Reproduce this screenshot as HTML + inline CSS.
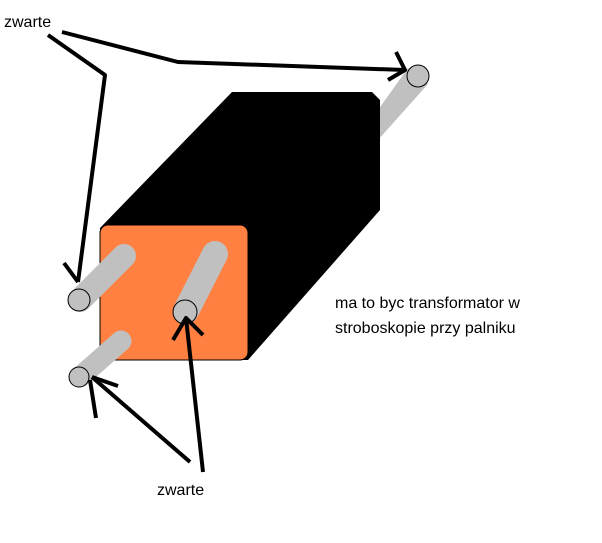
<!DOCTYPE html>
<html><head><style>body{margin:0;background:#fff}svg{display:block}text{font-family:"Liberation Sans",sans-serif;font-size:16px;fill:#000}</style></head><body>
<svg width="602" height="543" viewBox="0 0 602 543">
<polygon points="378,110 408,68 428,84 378,140" fill="#c0c0c0"/>
<circle cx="418" cy="76" r="11" fill="#c0c0c0" stroke="#000" stroke-width="1"/>
<polygon points="100,228 232,92 372,92 380,100 380,210 248,360 100,360" fill="#000"/>
<rect x="100" y="225" width="148" height="135" rx="8" fill="#ff8040" stroke="#000"/>
<g stroke-linecap="round" fill="none">
<line x1="80" y1="300" x2="124" y2="256" stroke="#c0c0c0" stroke-width="24"/>
<line x1="80" y1="377" x2="121" y2="341" stroke="#c0c0c0" stroke-width="21"/>
<line x1="186" y1="311" x2="215" y2="254" stroke="#c0c0c0" stroke-width="26"/>
</g>
<circle cx="79" cy="300" r="11" fill="#c0c0c0" stroke="#000"/>
<circle cx="79" cy="377" r="10" fill="#c0c0c0" stroke="#000"/>
<circle cx="185" cy="312" r="12" fill="#c0c0c0" stroke="#000"/>
<g stroke="#000" stroke-width="4" fill="none" stroke-linejoin="round">
<polyline points="48,35 105,75 78,282"/>
<polyline points="64,263 78,282"/>
<polyline points="62,32 178,62 405,70"/>
<polyline points="388,80 405,70 396,52"/>
<polyline points="203,472 186,318"/>
<polyline points="173,340 186,318 203,335"/>
<polyline points="190,462 92,377"/>
<polyline points="92,377 118,386"/>
<polyline points="96,418 90,380"/>
</g>
<text x="4" y="27">zwarte</text>
<text x="157" y="495">zwarte</text>
<text x="335" y="308">ma to byc transformator w</text>
<text x="335" y="333">stroboskopie przy palniku</text>
</svg>
</body></html>
